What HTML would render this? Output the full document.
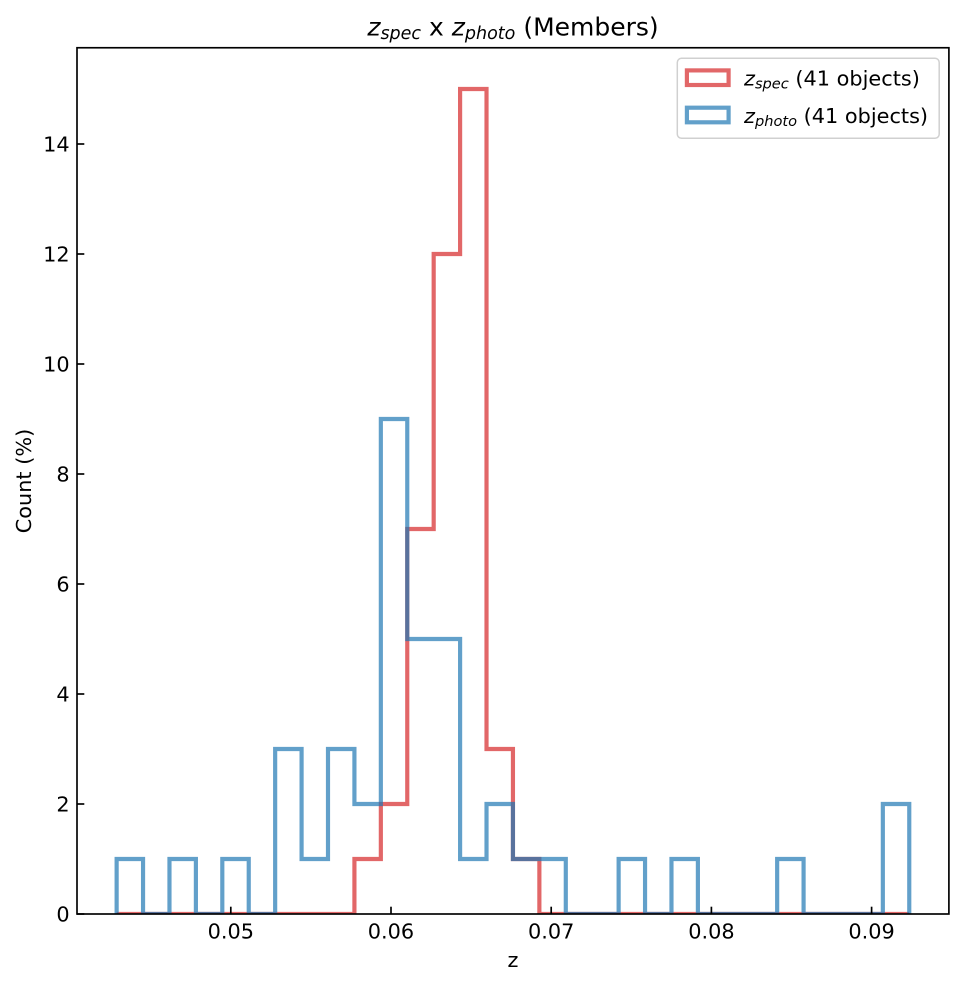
<!DOCTYPE html>
<html>
<head>
<meta charset="utf-8">
<style>
  html, body { margin: 0; padding: 0; background: #ffffff; }
  svg { display: block; }
  text { font-family: "DejaVu Sans", "Liberation Sans", sans-serif; fill: #000; white-space: pre; }
</style>
</head>
<body>
<svg width="963" height="985" viewBox="0 0 963 985" xmlns="http://www.w3.org/2000/svg">
  <rect x="0" y="0" width="963" height="985" fill="#ffffff"/>
  <defs>
    <clipPath id="ax">
      <rect x="77" y="47.75" width="871.9" height="866.25"/>
    </clipPath>
  </defs>

  <!-- histograms -->
  <g clip-path="url(#ax)" fill="none" stroke-width="4.17" stroke-linejoin="miter" stroke-linecap="butt">
    <path stroke="#d62728" stroke-opacity="0.7"
      d="M116.63,914 H354.42 V859 H380.84 V804 H407.26 V529 H433.68 V254 H460.10 V89 H486.52 V749 H512.95 V859 H539.37 V914 H909.26"/>
    <path stroke="#1f77b4" stroke-opacity="0.7"
      d="M116.63,914 V859 H143.05 V914 H169.47 V859 H195.89 V914 H222.31 V859 H248.74 V914 H275.16 V749 H301.58 V859 H328.00 V749 H354.42 V804 H380.84 V419 H407.26 V639 H460.10 V859 H486.52 V804 H512.95 V859 H565.79 V914 H618.63 V859 H645.05 V914 H671.47 V859 H697.89 V914 H777.16 V859 H803.58 V914 H882.84 V804 H909.26 V914"/>
  </g>

  <!-- ticks -->
  <g stroke="#000" stroke-width="1.67">
    <line x1="77" y1="914" x2="84.3" y2="914"/>
    <line x1="77" y1="804" x2="84.3" y2="804"/>
    <line x1="77" y1="694" x2="84.3" y2="694"/>
    <line x1="77" y1="584" x2="84.3" y2="584"/>
    <line x1="77" y1="474" x2="84.3" y2="474"/>
    <line x1="77" y1="364" x2="84.3" y2="364"/>
    <line x1="77" y1="254" x2="84.3" y2="254"/>
    <line x1="77" y1="144" x2="84.3" y2="144"/>
    <line x1="230.8" y1="914" x2="230.8" y2="906.7"/>
    <line x1="391.0" y1="914" x2="391.0" y2="906.7"/>
    <line x1="551.2" y1="914" x2="551.2" y2="906.7"/>
    <line x1="711.4" y1="914" x2="711.4" y2="906.7"/>
    <line x1="871.6" y1="914" x2="871.6" y2="906.7"/>
  </g>

  <!-- spines -->
  <rect x="77" y="47.75" width="871.9" height="866.25" fill="none" stroke="#000" stroke-width="1.67" stroke-linejoin="miter"/>

  <!-- y tick labels -->
  <g font-size="20.83" text-anchor="end">
    <text x="69.7" y="921.5">0</text>
    <text x="69.7" y="811.5">2</text>
    <text x="69.7" y="701.5">4</text>
    <text x="69.7" y="591.5">6</text>
    <text x="69.7" y="481.5">8</text>
    <text x="69.7" y="371.5">10</text>
    <text x="69.7" y="261.5">12</text>
    <text x="69.7" y="151.5">14</text>
  </g>

  <!-- x tick labels -->
  <g font-size="20.83" text-anchor="middle">
    <text x="230.8" y="938.5">0.05</text>
    <text x="391.0" y="938.5">0.06</text>
    <text x="551.2" y="938.5">0.07</text>
    <text x="711.4" y="938.5">0.08</text>
    <text x="871.6" y="938.5">0.09</text>
  </g>

  <!-- axis labels -->
  <text x="513" y="967" font-size="20.83" text-anchor="middle">z</text>
  <text transform="translate(31,481) rotate(-90)" font-size="20.83" text-anchor="middle">Count (%)</text>

  <!-- title -->
  <text x="513" y="35.5" font-size="25" text-anchor="middle"><tspan font-style="italic">z</tspan><tspan font-style="italic" font-size="17.5" dy="3.5">spec</tspan><tspan dy="-3.5"> x </tspan><tspan font-style="italic">z</tspan><tspan font-style="italic" font-size="17.5" dy="3.5">photo</tspan><tspan dy="-3.5"> (Members)</tspan></text>

  <!-- legend -->
  <rect x="677.3" y="58.3" width="261.9" height="80" rx="4.2" ry="4.2" fill="#ffffff" fill-opacity="0.8" stroke="#d0d0d0" stroke-width="1.5"/>
  <rect x="686.9" y="70.4" width="41.7" height="14.6" fill="none" stroke="#d62728" stroke-opacity="0.7" stroke-width="4.17"/>
  <rect x="686.9" y="107.7" width="41.7" height="14.6" fill="none" stroke="#1f77b4" stroke-opacity="0.7" stroke-width="4.17"/>
  <text x="744" y="85.5" font-size="20.83"><tspan font-style="italic">z</tspan><tspan font-style="italic" font-size="14.6" dy="3.2">spec</tspan><tspan dy="-3.2"> (41 objects)</tspan></text>
  <text x="744" y="122.8" font-size="20.83"><tspan font-style="italic">z</tspan><tspan font-style="italic" font-size="14.6" dy="3.2">photo</tspan><tspan dy="-3.2"> (41 objects)</tspan></text>
</svg>
</body>
</html>
